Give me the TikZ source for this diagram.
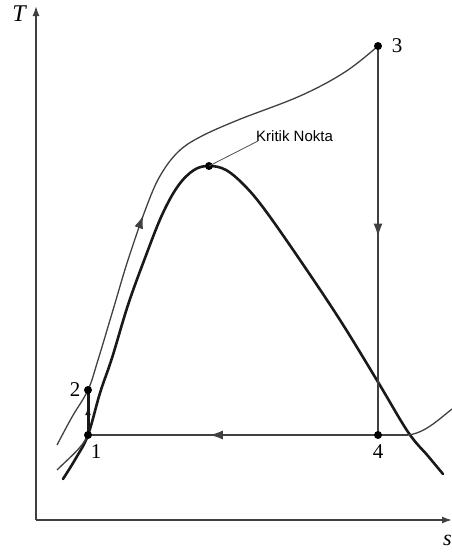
\documentclass[tikz,border=0pt]{standalone}
\usepackage{fontspec}
\setmainfont{Liberation Serif}
\newfontfamily\labelsans{Liberation Sans}
\usetikzlibrary{arrows.meta,decorations.markings}
\tikzset{
  thinline/.style={line width=1.3pt,draw=black!75},
  domeline/.style={line width=2.6pt,draw=black!90,line cap=round},
  midarrow/.style={postaction={decorate},decoration={markings,
    mark=at position #1 with {\arrow{Latex[length=13pt,width=9pt]}}}},
  statept/.style={circle,fill=black,inner sep=0pt,minimum size=8pt},
  statenum/.style={font=\fontsize{21}{21}\selectfont}
}
\begin{document}
\begin{tikzpicture}[x=1pt,y=-1pt]
\useasboundingbox (0,0) rectangle (452,552);
% axes
\draw[line width=1.5pt,draw=black!75,-{Latex[length=10pt,width=7pt]}] (36,520) -- (36,6);
\draw[line width=1.5pt,draw=black!75,-{Latex[length=10pt,width=7pt]}] (36,520) -- (452,520);
\node[font=\fontsize{24}{24}\selectfont\itshape] (Tlab) at (19,14) {T};
\node[font=\fontsize{22}{22}\selectfont\itshape,anchor=east,inner sep=0pt] (slab) at (452,540) {s};
% states
\coordinate (p1) at (88,435);
\coordinate (p2) at (88,390);
\coordinate (p3) at (378,46);
\coordinate (p4) at (378,435);
\coordinate (pc) at (209,166);
\coordinate (pr) at (408,435);
% saturation dome
\draw[domeline] plot[smooth,tension=0.6] coordinates {(63,479) (76,458) (88,435) (100,393) (112,358)
  (128,305) (145,258) (162,215) (178,186) (194,170) (209,166) (226,170) (245,186) (265,210)
  (300,260) (340,320) (378,382) (408,432) (428,456) (443,474)};
% heating line 2-3
\draw[thinline,midarrow=0.45] plot[smooth,tension=0.6] coordinates {(57,445) (72,417) (88,390)
  (98,360) (113,310) (128,260) (146,208) (160,176) (178,152) (200,137) (238,120) (300,96)
  (345,72) (378,46)};
% low pressure line
\draw[thinline] (57,470) .. controls (70,457) and (82,448) .. (p1);
\draw[thinline] (pr) .. controls (425,433) and (438,420) .. (452,409);
\draw[thinline] (p4) -- (pr);
\draw[thinline,midarrow=0.49] (p3) -- (p4);
\draw[thinline,midarrow=0.58] (p4) -- (p1);
\draw[line width=3pt,draw=black!90,postaction={decorate},decoration={markings,
  mark=at position 0.6 with {\arrow{Latex[length=7pt,width=6pt]}}}] (p1) -- (p2);
% points and labels
\foreach \pt in {p1,p2,p3,p4,pc} \node[statept] at (\pt) {};
\node[statenum] (n1) at (96,452) {1};
\node[statenum] (n2) at (75,390) {2};
\node[statenum] (n3) at (397,46) {3};
\node[statenum] (n4) at (378,452) {4};
\node[font=\fontsize{15}{15}\selectfont\labelsans,anchor=west,inner sep=0pt] (krit) at (256,136) {Kritik Nokta};
\draw[line width=0.8pt,draw=black!70] (pc) -- (258,141);
\end{tikzpicture}
\end{document}
